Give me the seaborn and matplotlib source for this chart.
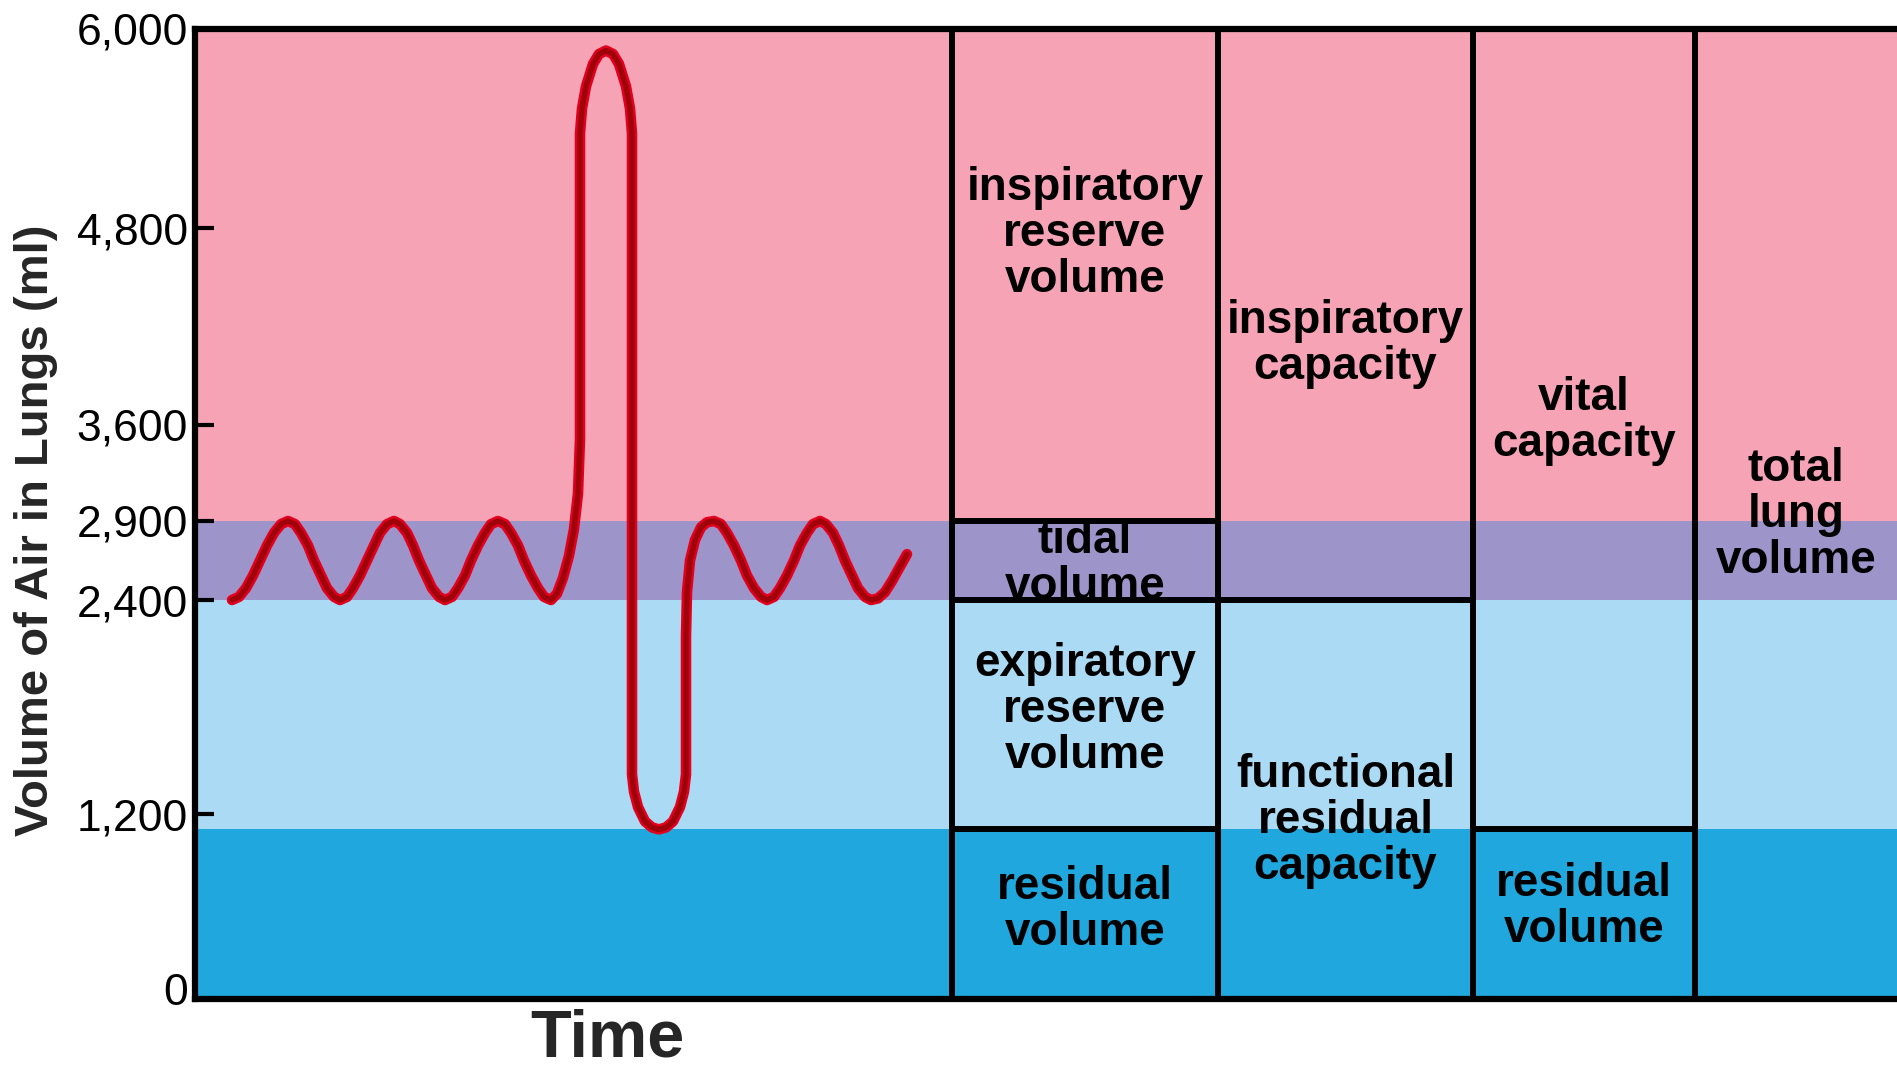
import numpy as np
import pandas as pd
import matplotlib
matplotlib.use('Agg')
import matplotlib.pyplot as plt
import matplotlib.transforms as mtransforms
import seaborn as sns

# lung volume bands (ml), bottom to top
band_names = ['residual volume', 'expiratory reserve volume', 'tidal volume', 'inspiratory reserve volume']
band_bottom = [0, 1100, 2400, 2900]
band_top = [1100, 2400, 2900, 6000]
band_colors = ['#20A7DD', '#ABDBF4', '#9D95CA', '#F6A3B6']

yticks = [0, 1200, 2400, 2900, 3600, 4800, 6000]
ytick_labels = ['0', '1,200', '2,400', '2,900', '3,600', '4,800', '6,000']

# spirometer trace (time in arbitrary units, volume in ml)
trace_t = [37, 44, 51, 58, 65, 72, 79, 86, 93,
           100, 106, 113, 119, 126, 132, 139, 145,
           152, 158, 165, 172, 179, 185, 192, 199,
           205, 212, 218, 224, 231, 237, 244, 250,
           257, 263, 270, 276, 283, 290, 296, 303,
           310, 316, 323, 329, 336, 343, 349, 356,
           362, 368, 374, 379, 383, 385,
           385, 385, 387, 391, 398, 404, 411, 418, 424, 431, 435, 437, 437,
           437, 437, 439, 443, 450, 457, 464, 471, 478, 485, 489, 491, 491,
           491, 492, 495, 500, 506, 512, 519,
           526, 532, 539, 546, 552, 559, 566, 572,
           579, 585, 592, 599, 605, 612, 618, 625,
           631, 638, 644, 650, 657, 663, 670, 676,
           683, 690, 697, 704, 712]
trace_v = [2400, 2420, 2475, 2555, 2650, 2745, 2825, 2880, 2900,
           2880, 2825, 2745, 2650, 2555, 2475, 2420, 2400,
           2420, 2475, 2555, 2650, 2745, 2825, 2880, 2900,
           2880, 2825, 2745, 2650, 2555, 2475, 2420, 2400,
           2420, 2475, 2555, 2650, 2745, 2825, 2880, 2900,
           2880, 2825, 2745, 2650, 2555, 2475, 2420, 2400,
           2440, 2540, 2680, 2850, 3100, 3500,
           5264, 5370, 5520, 5654, 5789, 5849, 5870, 5849, 5789, 5654, 5520, 5370, 5264,
           1490, 1422, 1325, 1239, 1152, 1113, 1100, 1113, 1152, 1239, 1325, 1422, 1490,
           2200, 2450, 2650, 2780, 2860, 2892, 2900,
           2880, 2825, 2745, 2650, 2555, 2475, 2420, 2400,
           2420, 2475, 2555, 2650, 2745, 2825, 2880, 2900,
           2880, 2825, 2745, 2650, 2555, 2475, 2420, 2400,
           2410, 2450, 2520, 2600, 2690]

# the summary columns on the right
col_left = [757, 1023, 1278, 1500]
col_right = [1023, 1278, 1500, 1702]
col_splits = [[1100, 2400, 2900], [2400], [1100], []]
col_labels = [['residual\nvolume', 'expiratory\nreserve\nvolume', 'tidal\nvolume', 'inspiratory\nreserve\nvolume'],
              ['functional\nresidual\ncapacity', 'inspiratory\ncapacity'],
              ['residual\nvolume', 'vital\ncapacity'],
              ['total\nlung\nvolume']]
# where each label sits (ml), as in the drawing
label_y = [[577, 1783, 2628, 4763], [1155, 4093], [597, 3624], [2944]]

sns.set_style('white')
plt.rcParams['font.family'] = ['Liberation Sans', 'DejaVu Sans']

# the drawing's volume axis is not evenly spaced, so map it piecewise
scale_ml = [0, 1200, 2400, 2900, 3600, 4800, 6000]
scale_pos = [0, 185, 399, 478, 574, 771, 970]


def fwd(v):
    return np.interp(v, scale_ml, scale_pos)


def inv(p):
    return np.interp(p, scale_pos, scale_ml)


fig = plt.figure(figsize=(18.97, 10.71), dpi=100)
ax = fig.add_axes([195 / 1897, 72 / 1071, 1702 / 1897, 970 / 1071])
ax.set_yscale('function', functions=(fwd, inv))

for b, t, c in zip(band_bottom, band_top, band_colors):
    ax.axhspan(b, t, color=c, lw=0, zorder=0)

df = pd.DataFrame({'t': trace_t, 'v': trace_v})
sns.lineplot(data=df, x='t', y='v', sort=False, estimator=None, color='#E3001E',
             lw=7.6, solid_capstyle='round', solid_joinstyle='round', ax=ax, zorder=3)
sns.lineplot(data=df, x='t', y='v', sort=False, estimator=None, color='#A0000A',
             lw=4.0, solid_capstyle='round', solid_joinstyle='round', ax=ax, zorder=4)

ax.vlines(col_left, 0, 6000, color='black', lw=4.3, zorder=5)
for i in range(len(col_left)):
    if col_splits[i]:
        ax.hlines(col_splits[i], col_left[i], col_right[i], color='black', lw=4.3, zorder=5)
    cx = (col_left[i] + col_right[i]) / 2
    for txt, yv in zip(col_labels[i], label_y[i]):
        ax.text(cx, yv, txt, ha='center', va='center', fontsize=33, fontweight='bold',
                linespacing=1.06, color='black', zorder=6)

ax.set_xlim(0, 1702)
ax.set_ylim(0, 6000)
ax.set_xticks([])
ax.set_yticks(yticks)
ax.set_yticklabels(ytick_labels)
ax.tick_params(axis='y', direction='in', length=14, width=3, labelsize=32, pad=5,
               colors='black', left=True)
# the "0" sits a little above the bottom line in the drawing
lab0 = ax.get_yticklabels()[0]
lab0.set_transform(lab0.get_transform() + mtransforms.ScaledTranslation(0, 7 / 72, fig.dpi_scale_trans))
ax.set_xlabel('')
ax.set_ylabel('')
for s in ['left', 'top', 'bottom']:
    ax.spines[s].set_linewidth(4.5)
    ax.spines[s].set_color('black')
    ax.spines[s].set_zorder(7)
ax.spines['right'].set_visible(False)

ax.text(412, -0.0595, 'Time', transform=ax.get_xaxis_transform(), ha='center',
        va='baseline', fontsize=48, fontweight='bold')
fig.text(36 / 1897, 1 - 530 / 1071, 'Volume of Air in Lungs (ml)', rotation=90,
         ha='center', va='center', fontsize=34, fontweight='bold')

fig.savefig('out.png', dpi=100)
